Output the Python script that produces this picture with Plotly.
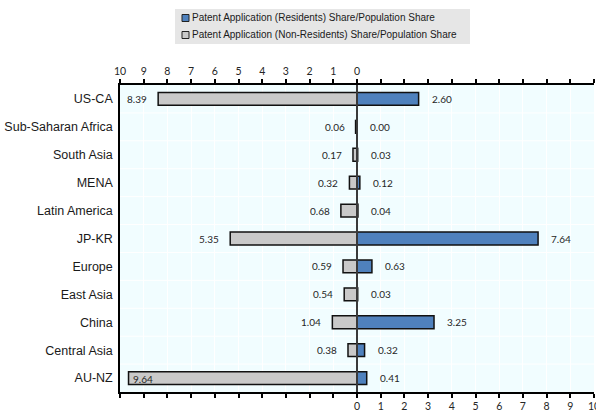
import plotly.graph_objects as go

categories = ["US-CA", "Sub-Saharan Africa", "South Asia", "MENA", "Latin America",
              "JP-KR", "Europe", "East Asia", "China", "Central Asia", "AU-NZ"]
residents = [2.60, 0.00, 0.03, 0.12, 0.04, 7.64, 0.63, 0.03, 3.25, 0.32, 0.41]
non_residents = [8.39, 0.06, 0.17, 0.32, 0.68, 5.35, 0.59, 0.54, 1.04, 0.38, 9.64]
tick_values = list(range(-10, 11))
top_tick_text = [str(abs(v)) if v <= 0 else "" for v in tick_values]
bottom_tick_text = [str(v) if v >= 0 else "" for v in tick_values]

name_res = "Patent Application (Residents) Share/Population Share"
name_non = "Patent Application (Non-Residents) Share/Population Share"

BLUE = "#4F81BD"
GRAY = "#C9C9C9"
NARROW = "Liberation Sans Narrow, Arial Narrow, Liberation Sans, Arial, sans-serif"
NUM = "Lato, Calibri, sans-serif"

W, H = 596, 412
ML, MR, MT, MB = 120, 2, 85, 20
PW, PH = W - ML - MR, H - MT - MB


def px(xp):
    return (xp - ML) / PW


def py(yp):
    return (H - MB - yp) / PH


fig = go.Figure()
fig.add_trace(go.Bar(
    y=categories, x=residents, orientation="h", name=name_res,
    marker=dict(color=BLUE, line=dict(color="#111111", width=1.5)),
    width=0.46, xaxis="x", yaxis="y",
))
fig.add_trace(go.Bar(
    y=categories, x=[-v for v in non_residents], orientation="h", name=name_non,
    marker=dict(color=GRAY, line=dict(color="#111111", width=1.5)),
    width=0.46, xaxis="x2", yaxis="y",
))

annotations = []
for c, v in zip(categories, residents):
    annotations.append(dict(x=v, y=c, xref="x", yref="y", text=f"{v:.2f}",
                            showarrow=False, xanchor="left", xshift=11,
                            font=dict(family=NUM, size=10, color="#262626")))
for c, v in zip(categories, non_residents):
    if v > 9:
        annotations.append(dict(x=-v, y=c, xref="x", yref="y", text=f"{v:.2f}",
                                showarrow=False, xanchor="left", xshift=2, yshift=-1,
                                font=dict(family=NUM, size=10, color="#262626")))
    else:
        annotations.append(dict(x=-v, y=c, xref="x", yref="y", text=f"{v:.2f}",
                                showarrow=False, xanchor="right", xshift=-9,
                                font=dict(family=NUM, size=10, color="#262626")))

shapes = []
for i in range(len(categories) - 1):
    shapes.append(dict(type="line", xref="paper", yref="y", x0=0, x1=1,
                       y0=i + 0.5, y1=i + 0.5, line=dict(color="white", width=1),
                       layer="below"))
shapes.append(dict(type="line", xref="x", yref="paper", x0=0, x1=0, y0=0, y1=1,
                   line=dict(color="#3a3a3a", width=2), layer="above"))

# custom legend (box, swatches, labels)
shapes.append(dict(type="rect", xref="paper", yref="paper",
                   x0=px(175), x1=px(470), y0=py(44), y1=py(9),
                   fillcolor="#E6E6E6", line=dict(width=0), layer="above"))
for name, color, yc in [(name_res, BLUE, 18), (name_non, GRAY, 35)]:
    shapes.append(dict(type="rect", xref="paper", yref="paper",
                       x0=px(182), x1=px(189), y0=py(yc + 3.5), y1=py(yc - 3.5),
                       fillcolor=color, line=dict(color="#222222", width=1), layer="above"))
    annotations.append(dict(x=px(190), y=py(yc), xref="paper", yref="paper",
                            text=name, showarrow=False, xanchor="left", yanchor="middle",
                            font=dict(family=NARROW, size=10, color="#1a1a1a")))

axis_common = dict(range=[-10, 10], autorange=False, tickmode="array", tickvals=tick_values,
                   ticks="outside", ticklen=4, tickwidth=1.5, tickcolor="black",
                   showline=True, linecolor="black", linewidth=1.5,
                   showgrid=True, gridcolor="white", gridwidth=1,
                   zeroline=False, fixedrange=True, automargin=False,
                   ticklabeloverflow="allow",
                   tickfont=dict(family=NUM, size=10.5, color="#262626"))

fig.update_layout(
    width=W, height=H,
    margin=dict(l=ML, r=MR, t=MT, b=MB, autoexpand=False),
    paper_bgcolor="white", plot_bgcolor="#F1FDFF",
    barmode="overlay",
    xaxis=dict(**axis_common, side="bottom", ticktext=bottom_tick_text),
    xaxis2=dict(**axis_common, side="top", overlaying="x", anchor="y",
                ticktext=top_tick_text),
    yaxis=dict(categoryorder="array", categoryarray=categories, autorange="reversed",
               showline=True, linecolor="black", linewidth=1.5, ticks="",
               showgrid=False, fixedrange=True, automargin=False,
               ticklabelstandoff=3,
               tickfont=dict(family=NARROW, size=12.5, color="#1a1a1a")),
    annotations=annotations, shapes=shapes,
    showlegend=False,
)

fig.write_html("out.html", config={"displayModeBar": False},
               post_script="document.body.style.margin='0';document.body.style.overflow='hidden';")
